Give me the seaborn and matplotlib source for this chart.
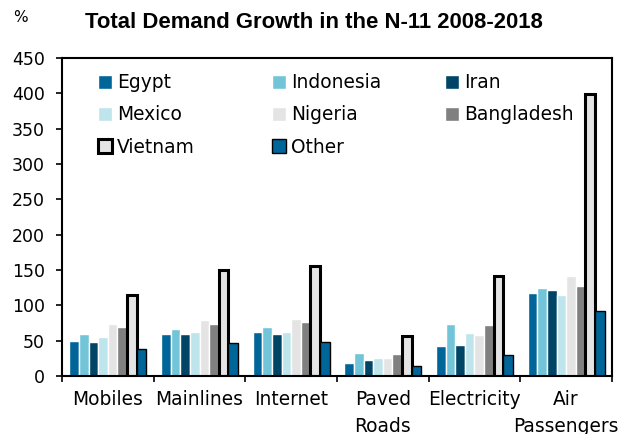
import matplotlib
matplotlib.use("Agg")
import matplotlib.pyplot as plt
import seaborn as sns
import pandas as pd

# Demand growth 2008-2018, % by sector and country
categories = ["Mobiles", "Mainlines", "Internet", "Paved\nRoads", "Electricity", "Air\nPassengers"]
countries = ["Egypt", "Indonesia", "Iran", "Mexico", "Nigeria", "Bangladesh", "Vietnam", "Other"]
egypt = [50, 59, 62, 19, 43, 117]
indonesia = [59, 67, 69, 33, 73, 125]
iran = [48, 59, 59, 22, 44, 121]
mexico = [55, 62, 62, 26, 61, 114]
nigeria = [73, 79, 80, 26, 58, 142]
bangladesh = [69, 73, 76, 31, 72, 128]
vietnam = [114, 150, 155, 57, 142, 399]
other = [38, 47, 48, 14, 30, 92]
y_ticks = [0, 50, 100, 150, 200, 250, 300, 350, 400, 450]

colors = ["#006699", "#72C5D8", "#004466", "#BEE4EC", "#E4E4E4", "#808080", "#E4E4E4", "#006699"]

series = [egypt, indonesia, iran, mexico, nigeria, bangladesh, vietnam, other]
rows = []
for country, vals in zip(countries, series):
    for cat, v in zip(categories, vals):
        rows.append({"Sector": cat, "Country": country, "Growth": v})
df = pd.DataFrame(rows)

sns.set_style("white")
plt.rcParams["font.family"] = ["DejaVu Sans"]
plt.rcParams["text.color"] = "black"
plt.rcParams["xtick.color"] = "black"
plt.rcParams["ytick.color"] = "black"
plt.rcParams["axes.labelcolor"] = "black"

fig = plt.figure(figsize=(6.22, 4.34), dpi=100)
ax = fig.add_axes([62 / 622, 1 - 376 / 434, 550 / 622, 318 / 434])

sns.barplot(data=df, x="Sector", y="Growth", hue="Country", order=categories,
            hue_order=countries, palette=colors, width=0.84, dodge=True,
            saturation=1, errorbar=None, ax=ax, legend=False)

# outline Vietnam (thick) and Other (thin)
for patch in ax.containers[6]:
    patch.set_edgecolor("black")
    patch.set_linewidth(2.2)
for patch in ax.containers[7]:
    patch.set_edgecolor("black")
    patch.set_linewidth(1.0)

ax.set_ylim(0, 450)
ax.set_xlim(-0.5, len(categories) - 0.5)
ax.set_yticks(y_ticks)
ax.set_xlabel("")
ax.set_ylabel("")

for s in ax.spines.values():
    s.set_visible(True)
    s.set_color("black")
    s.set_linewidth(1.5)

ax.tick_params(axis="y", which="major", direction="out", length=4.3, width=1.2,
               labelsize=12.5, pad=8, left=True, colors="black")
ax.set_xticks(range(len(categories)))
ax.set_xticklabels(categories, fontsize=13.4, linespacing=1.55)
ax.tick_params(axis="x", which="major", length=0, pad=10, labelcolor="black")
ax.set_xticks([i + 0.5 for i in range(-1, len(categories))], minor=True)
ax.tick_params(axis="x", which="minor", direction="out", length=4.3, width=1.2,
               bottom=True, colors="black")
for lbl in ax.get_xticklabels():
    lbl.set_verticalalignment("top")

# legend laid out as three fixed-position columns
columns = [[0, 3, 6], [1, 4, 7], [2, 5]]
col_x = [0.0655, 0.382, 0.696]
for idx, (col, x0) in enumerate(zip(columns, col_x)):
    leg = ax.legend([ax.containers[i].patches[0] for i in col],
                    [countries[i] for i in col],
                    loc="upper left", bbox_to_anchor=(x0, 0.952),
                    frameon=False, fontsize=13.4, handlelength=0.75,
                    handleheight=0.75, handletextpad=0.27, labelspacing=0.71,
                    borderpad=0, borderaxespad=0)
    if idx < len(columns) - 1:
        ax.add_artist(leg)

fig.text(313.5 / 622, 1 - 22.5 / 434, "Total Demand Growth in the N-11 2008-2018",
         ha="center", va="center", fontsize=15.9, fontweight="bold",
         family=["Liberation Sans", "DejaVu Sans"])
fig.text(20.5 / 622, 1 - 17.5 / 434, "%", ha="center", va="center", fontsize=11)

fig.savefig("out.png", dpi=100)
